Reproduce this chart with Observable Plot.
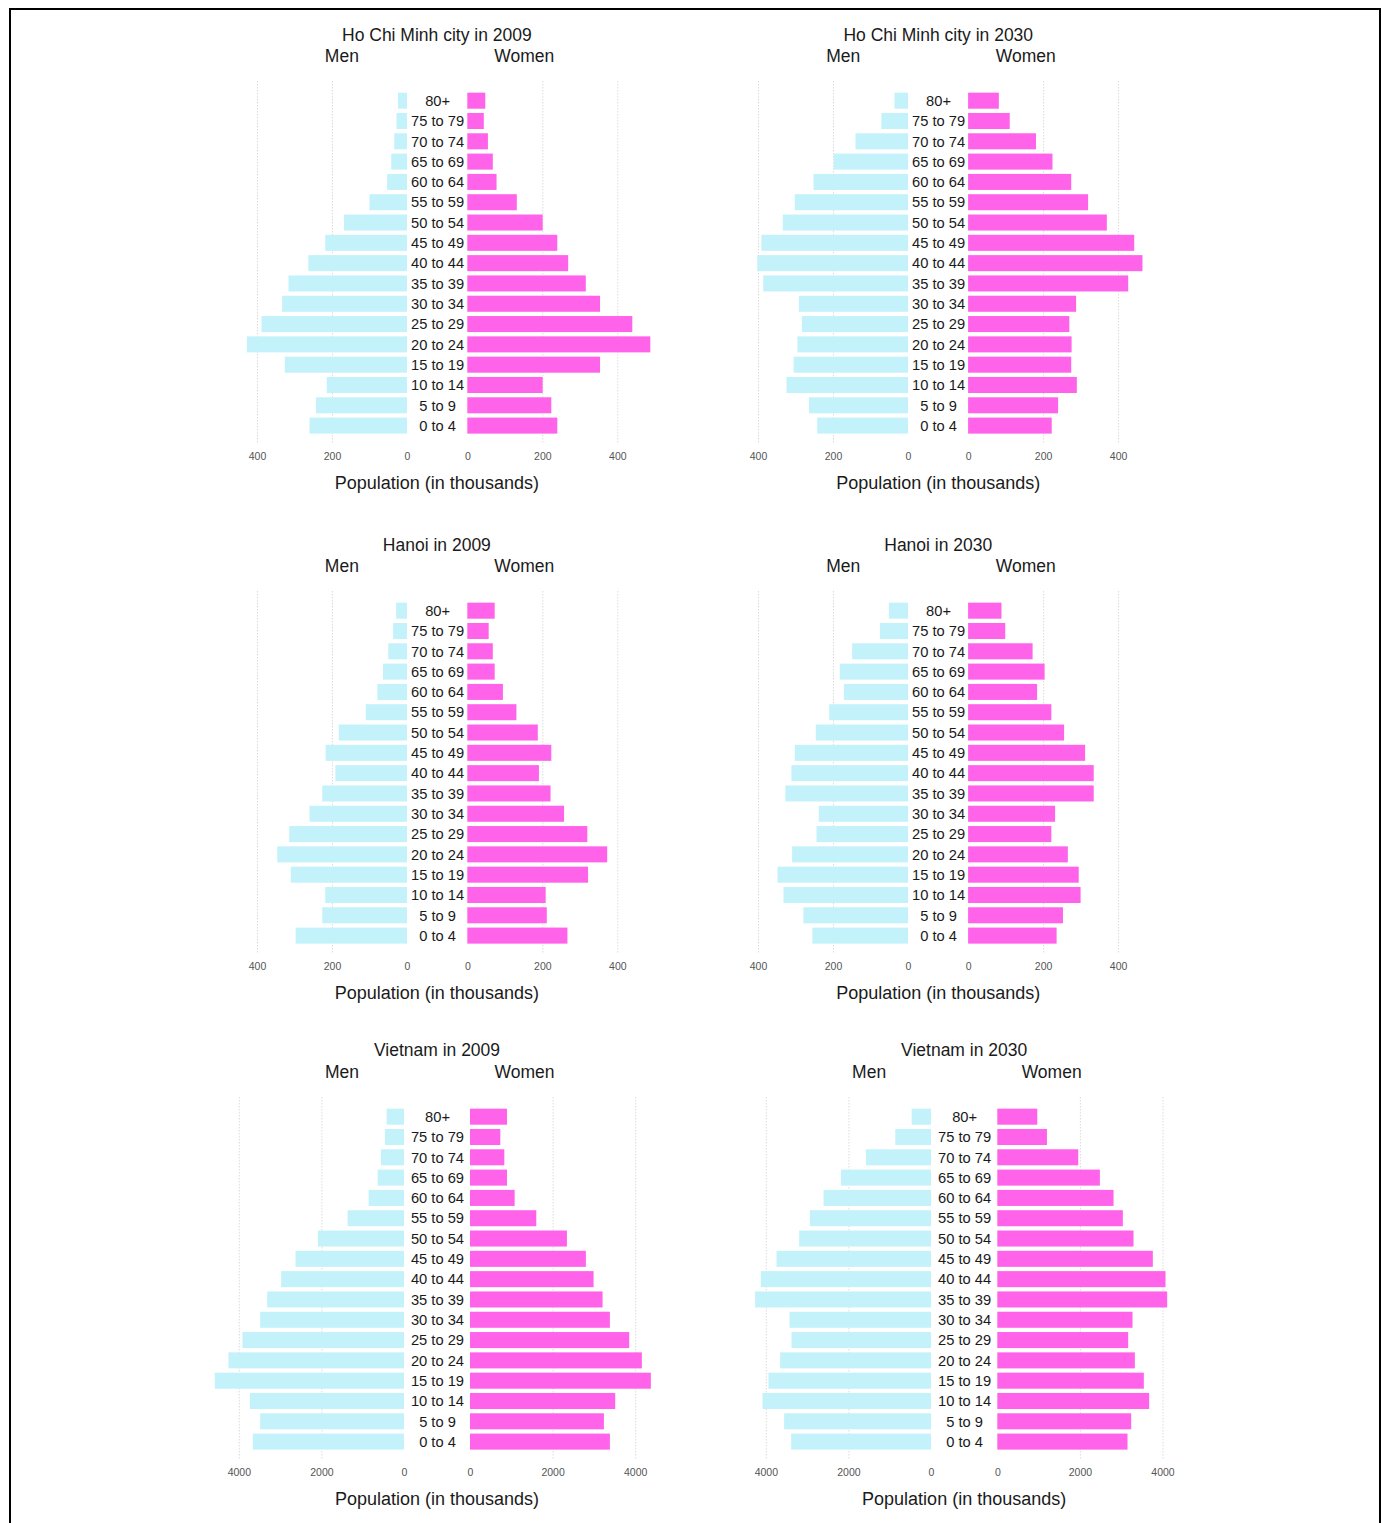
<!DOCTYPE html>
<html><head><meta charset="utf-8">
<script src="https://cdn.jsdelivr.net/npm/d3@7"></script>
<script src="https://cdn.jsdelivr.net/npm/@observablehq/plot@0.6"></script>
<style>
html,body{margin:0;padding:0;background:#fff;overflow:hidden;}
#page{position:relative;width:1381px;height:1523px;overflow:hidden;font-family:"Liberation Sans",Arial,sans-serif;color:#1a1a1a;}
#frame{position:absolute;left:9px;top:8px;width:1368px;height:1600px;border:2px solid #000;border-bottom:none;}
.lbl{position:absolute;transform:translate(-50%,-50%);white-space:nowrap;line-height:1;}
.title{font-size:17.5px}
.sex{font-size:17.5px}
.axt{font-size:18px}
.plot{position:absolute}
</style></head><body><div id="page"><div id="frame"></div></div>
<script>
// Age groups (bottom to top)
const ages = ["0 to 4","5 to 9","10 to 14","15 to 19","20 to 24","25 to 29","30 to 34","35 to 39","40 to 44","45 to 49","50 to 54","55 to 59","60 to 64","65 to 69","70 to 74","75 to 79","80+"];

// Population in thousands, same order as ages
const hcm2009Men   = [260, 243, 214, 326, 427, 388, 333, 316, 263, 218, 168, 100, 53, 42, 34, 28, 24];
const hcm2009Women = [240, 224, 201, 354, 488, 440, 354, 316, 269, 240, 201, 132, 78, 68, 55, 44, 48];
const hcm2030Men   = [242, 264, 324, 305, 295, 283, 291, 386, 402, 391, 334, 302, 252, 198, 140, 71, 36];
const hcm2030Women = [223, 240, 290, 275, 276, 270, 288, 427, 465, 443, 370, 320, 275, 225, 181, 111, 82];
const hanoi2009Men   = [297, 226, 218, 310, 346, 314, 260, 226, 191, 217, 182, 110, 79, 64, 50, 37, 29];
const hanoi2009Women = [267, 212, 209, 322, 373, 320, 258, 222, 191, 224, 188, 131, 95, 73, 68, 57, 73];
const hanoi2030Men   = [255, 279, 332, 348, 309, 244, 238, 327, 311, 302, 246, 210, 171, 182, 149, 75, 51];
const hanoi2030Women = [236, 253, 300, 295, 266, 222, 232, 335, 335, 312, 256, 222, 184, 204, 172, 99, 89];
const vn2009Men   = [3661, 3483, 3733, 4582, 4251, 3911, 3483, 3313, 2974, 2626, 2085, 1366, 857, 638, 558, 461, 420];
const vn2009Women = [3387, 3242, 3516, 4379, 4161, 3855, 3387, 3210, 2992, 2806, 2347, 1605, 1081, 895, 831, 734, 895];
const vn2030Men   = [3386, 3556, 4081, 3935, 3653, 3378, 3426, 4259, 4121, 3741, 3192, 2933, 2602, 2182, 1576, 865, 469];
const vn2030Women = [3153, 3242, 3677, 3548, 3331, 3169, 3274, 4113, 4073, 3766, 3298, 3040, 2815, 2484, 1960, 1202, 968];

// Tick labels
const cityTicks = [0, 200, 400];
const countryTicks = [0, 2000, 4000];

const panelTitles = ["Ho Chi Minh city in 2009","Ho Chi Minh city in 2030","Hanoi in 2009","Hanoi in 2030","Vietnam in 2009","Vietnam in 2030"];
const sexLabels = ["Men","Women"];
const axisTitle = "Population (in thousands)";

// Layout (pixel geometry)
const rowOffsets = [0, 510, 1015.6];
const cityCols = [{menZero:406.7, gap:60.3, ppu:0.375, wm:180, ww:200}, {menZero:908.2, gap:60.1, ppu:0.375, wm:180, ww:200}];
const countryCols = [{menZero:404, gap:66, ppu:0.0413, wm:210, ww:200}, {menZero:931, gap:66.3, ppu:0.0413, wm:210, ww:200}];

const panels = [
  {title:panelTitles[0], men:hcm2009Men, women:hcm2009Women, ticks:cityTicks, geo:cityCols[0], row:0},
  {title:panelTitles[1], men:hcm2030Men, women:hcm2030Women, ticks:cityTicks, geo:cityCols[1], row:0},
  {title:panelTitles[2], men:hanoi2009Men, women:hanoi2009Women, ticks:cityTicks, geo:cityCols[0], row:1},
  {title:panelTitles[3], men:hanoi2030Men, women:hanoi2030Women, ticks:cityTicks, geo:cityCols[1], row:1},
  {title:panelTitles[4], men:vn2009Men, women:vn2009Women, ticks:countryTicks, geo:countryCols[0], row:2},
  {title:panelTitles[5], men:vn2030Men, women:vn2030Women, ticks:countryTicks, geo:countryCols[1], row:2},
];

const page = document.getElementById("page");
const FONT = "'Liberation Sans', Arial, sans-serif";
const MEN_COLOR = "#c4f2fa";
const WOMEN_COLOR = "#ff63ea";
const GRID = {stroke:"#dcdcdc", strokeOpacity:1, strokeWidth:1, strokeDasharray:"1.5,1.5"};
const tickFmt = d => String(d);

function label(text, cls, x, y) {
  const d = document.createElement("div");
  d.className = "lbl " + cls;
  d.textContent = text;
  d.style.left = x + "px";
  d.style.top = y + "px";
  page.appendChild(d);
}

function place(svg, left, top) {
  svg.classList.add("plot");
  svg.style.left = left + "px";
  svg.style.top = top + "px";
  page.appendChild(svg);
}

const H = 400, MT = 11, MB = 27;
const yScale = {type:"band", domain: ages.slice().reverse(), padding:0.21, round:false, insetTop:7.4, insetBottom:5.1, axis:null};

for (const p of panels) {
  const g = p.geo;
  const ro = rowOffsets[p.row];
  const cx = g.menZero + g.gap / 2;
  label(p.title, "title", cx, ro + 35.5);
  label(sexLabels[0], "sex", cx - 95, ro + 57);
  label(sexLabels[1], "sex", cx + 87.5, ro + 57);
  label(axisTitle, "axt", cx, ro + 483);

  const menData = ages.map((a, i) => ({age:a, value:p.men[i]}));
  const womenData = ages.map((a, i) => ({age:a, value:p.women[i]}));
  const gridTicks = p.ticks.filter(t => t !== 0);

  const menPlot = Plot.plot({
    width: g.wm, height: H, marginLeft: 0, marginRight: 0, marginTop: MT, marginBottom: MB,
    style: {fontFamily: FONT, background: "transparent", overflow: "visible"},
    x: {domain: [0, g.wm / g.ppu], reverse: true, axis: null, label: null},
    y: yScale,
    marks: [
      Plot.gridX(gridTicks, GRID),
      Plot.barX(menData, {x: "value", y: "age", fill: MEN_COLOR}),
      Plot.axisX(p.ticks, {tickSize: 0, tickPadding: 9.5, fontSize: 10.5, color: "#555", label: null, tickFormat: tickFmt})
    ]
  });
  place(menPlot, g.menZero - g.wm, ro + 70);

  const womenPlot = Plot.plot({
    width: g.gap + g.ww, height: H, marginLeft: g.gap, marginRight: 0, marginTop: MT, marginBottom: MB,
    style: {fontFamily: FONT, background: "transparent", overflow: "visible"},
    x: {domain: [0, g.ww / g.ppu], axis: null, label: null},
    y: yScale,
    marks: [
      Plot.gridX(gridTicks, GRID),
      Plot.barX(womenData, {x: "value", y: "age", fill: WOMEN_COLOR}),
      Plot.axisX(p.ticks, {tickSize: 0, tickPadding: 9.5, fontSize: 10.5, color: "#555", label: null, tickFormat: tickFmt}),
      Plot.axisY({anchor: "left", tickSize: 0, tickPadding: g.gap / 2, textAnchor: "middle", fontSize: 14.7, color: "#1a1a1a", label: null})
    ]
  });
  place(womenPlot, g.menZero, ro + 70);
}
</script>
</body></html>
